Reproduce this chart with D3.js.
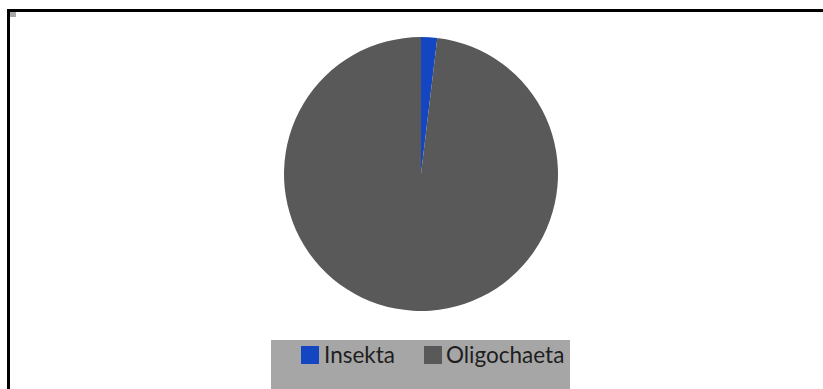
<!DOCTYPE html>
<html><head><meta charset="utf-8">
<script src="https://cdn.jsdelivr.net/npm/d3@7"></script>
<style>html,body{margin:0;padding:0;background:#fff;overflow:hidden}</style>
</head><body>
<svg id="c" width="823" height="389"></svg>
<script>
const categories = ["Insekta", "Oligochaeta"];
const values = [1.9, 98.1];
const colors = ["#1346c0", "#595959"];

const svg = d3.select("#c");
// frame
svg.append("line").attr("x1",8.5).attr("y1",10).attr("x2",8.5).attr("y2",389).attr("stroke","#000").attr("stroke-width",3);
svg.append("line").attr("x1",7).attr("y1",10.5).attr("x2",823).attr("y2",10.5).attr("stroke","#000").attr("stroke-width",3);
svg.append("rect").attr("x",10).attr("y",12).attr("width",6).attr("height",5).attr("fill","#a8a8a8");

const data = categories.map((c,i)=>({c, v:values[i], col:colors[i]}));
const pie = d3.pie().value(d=>d.v).sort(null);
const arc = d3.arc().innerRadius(0).outerRadius(137);
const g = svg.append("g").attr("transform","translate(421,174)");
g.selectAll("path").data(pie(data)).join("path").attr("d",arc).attr("fill",d=>d.data.col);

// legend
const lg = svg.append("g");
lg.append("rect").attr("x",271).attr("y",340).attr("width",299).attr("height",49).attr("fill","#a6a6a6");
const pos = [{sx:301, tx:324},{sx:424, tx:446}];
data.forEach((d,i)=>{
  lg.append("rect").attr("x",pos[i].sx).attr("y",346).attr("width",18).attr("height",18).attr("fill",d.col);
  lg.append("text").attr("x",pos[i].tx).attr("y",363).attr("font-family","Lato, 'Open Sans', sans-serif").attr("font-size",22.5).attr("fill","#1e1e1e").text(d.c);
});
</script>
</body></html>
